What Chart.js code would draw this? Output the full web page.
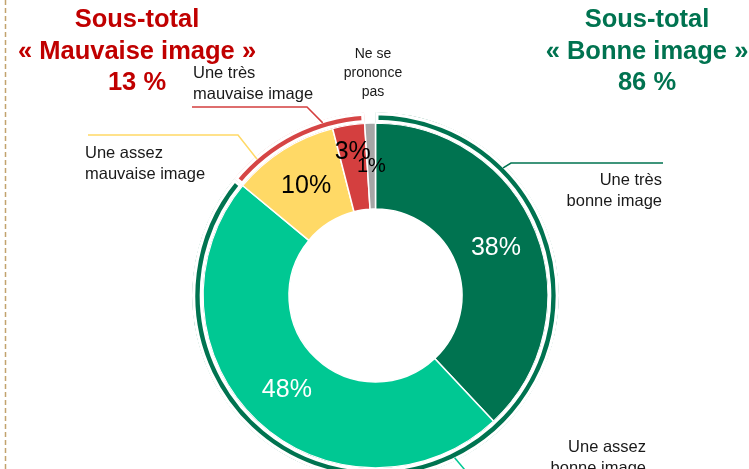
<!DOCTYPE html>
<html lang="fr">
<head>
<meta charset="utf-8">
<script src="https://cdn.jsdelivr.net/npm/chart.js@4.4.1/dist/chart.umd.min.js"></script>
<style>
  html, body { margin: 0; padding: 0; background: #fff; overflow: hidden; }
  #wrap { position: relative; width: 749px; height: 469px; overflow: hidden; }
  canvas { position: absolute; left: 0; top: 0; }
</style>
</head>
<body>
<div id="wrap"><canvas id="image-chart" width="749" height="520"></canvas></div>
<script>
// Image donut

const categories = [
  ["Une très", "bonne image"],
  ["Une assez", "bonne image"],
  ["Une assez", "mauvaise image"],
  ["Une très", "mauvaise image"],
  ["Ne se", "prononce", "pas"],
];
const shares = [38, 48, 10, 3, 1];
const subtotalNames = ["« Bonne image »", "« Mauvaise image »", "Ne se prononce pas"];
const subtotals = [86, 13, 1];

const DARK_GREEN = "#007350";
const LIGHT_GREEN = "#00C893";
const YELLOW = "#FFD966";
const RED = "#D43F3F";
const GREY = "#A6A6A6";
const FONT = "'Liberation Sans', Arial, sans-serif";

const sliceColors = [DARK_GREEN, LIGHT_GREEN, YELLOW, RED, GREY];
const labelColors = ["#fff", "#fff", "#000", "#000", "#000"];
const labelSizes = [25, 25, 25, 25, 20];
const labelPush = [0, 0, 0, 16, 0];

// leader lines: "at" = bearing on the ring (deg, clockwise from top), then the points of the line
const callouts = [
  { at: 45, path: [[511, 163], [663, 163]], color: DARK_GREEN, x: 662, y: 185, align: "right" },
  { at: 154, path: [[486, 495]], color: LIGHT_GREEN, x: 646, y: 452, align: "right" },
  { at: 319, path: [[238, 135], [88, 135]], color: YELLOW, x: 85, y: 158, align: "left" },
  { at: 343, path: [[307, 107], [192, 107]], color: RED, x: 193, y: 78, align: "left" },
  { at: null, path: [], x: 373, y: 58, align: "center", size: 14, lead: 19 },
];

const annotations = {
  id: "annotations",
  beforeDraw(chart) {
    const { ctx } = chart;
    ctx.save();
    ctx.strokeStyle = "#C2A36E";
    ctx.lineWidth = 1.5;
    ctx.setLineDash([5, 3]);
    ctx.beginPath();
    ctx.moveTo(5.5, 0);
    ctx.lineTo(5.5, chart.height);
    ctx.stroke();
    ctx.restore();
  },
  afterDatasetsDraw(chart) {
    const { ctx } = chart;
    const ring = chart.getDatasetMeta(1).data;
    const outer = chart.getDatasetMeta(0).data[0];
    const cx = outer.x;
    const cy = outer.y;
    const edge = outer.outerRadius - 3;
    ctx.save();

    // percentages in the slices
    ctx.textAlign = "center";
    ctx.textBaseline = "middle";
    ring.forEach((arc, i) => {
      const mid = (arc.startAngle + arc.endAngle) / 2;
      const rr = (arc.innerRadius + arc.outerRadius) / 2 + labelPush[i];
      ctx.font = labelSizes[i] + "px " + FONT;
      ctx.fillStyle = labelColors[i];
      ctx.fillText(shares[i] + "%", cx + Math.cos(mid) * rr, cy + Math.sin(mid) * rr);
    });

    // category callouts
    ctx.textBaseline = "alphabetic";
    callouts.forEach((c, i) => {
      if (c.at !== null) {
        const a = (c.at - 90) * Math.PI / 180;
        ctx.strokeStyle = c.color;
        ctx.lineWidth = 1.5;
        ctx.beginPath();
        ctx.moveTo(cx + Math.cos(a) * edge, cy + Math.sin(a) * edge);
        c.path.forEach(p => ctx.lineTo(p[0], p[1]));
        ctx.stroke();
      }
      ctx.font = (c.size || 16.5) + "px " + FONT;
      ctx.fillStyle = "#1a1a1a";
      ctx.textAlign = c.align;
      categories[i].forEach((line, k) => {
        ctx.fillText(line, c.x, c.y + k * (c.lead || 20.5));
      });
    });

    // subtotal headings
    ctx.font = "bold 25.5px " + FONT;
    ctx.textAlign = "center";
    const heads = [
      { x: 137, color: "#C00000", lines: ["Sous-total", subtotalNames[1], subtotals[1] + " %"] },
      { x: 647, color: DARK_GREEN, lines: ["Sous-total", subtotalNames[0], subtotals[0] + " %"] },
    ];
    heads.forEach(h => {
      ctx.fillStyle = h.color;
      h.lines.forEach((line, k) => ctx.fillText(line, h.x, 27 + k * 31.5));
    });
    ctx.restore();
  },
};

const ctx = document.getElementById("image-chart");

new Chart(ctx, {
  type: "doughnut",
  data: {
    labels: categories,
    datasets: [{
        label: "Sous-total",
        data: subtotals,
        backgroundColor: [DARK_GREEN, "#D64545", "rgba(0,0,0,0)"],
        borderColor: "#ffffff",
        borderWidth: [3, 3, 0],
        borderAlign: "inner",
        weight: 11,
      },
      {
        label: "Image",
        data: shares,
        backgroundColor: sliceColors,
        borderColor: "#ffffff",
        borderWidth: 1.5,
        weight: 86,
      },
    ],
  },
  options: {
    responsive: false,
    animation: false,
    events: [],
    cutout: "47.14%",
    layout: {
      padding: { left: 192, right: 190, top: 112, bottom: 41 },
    },
    plugins: {
      legend: { display: false },
      tooltip: { enabled: false },
    },
  },
  plugins: [annotations],
});
</script>
</body>
</html>
